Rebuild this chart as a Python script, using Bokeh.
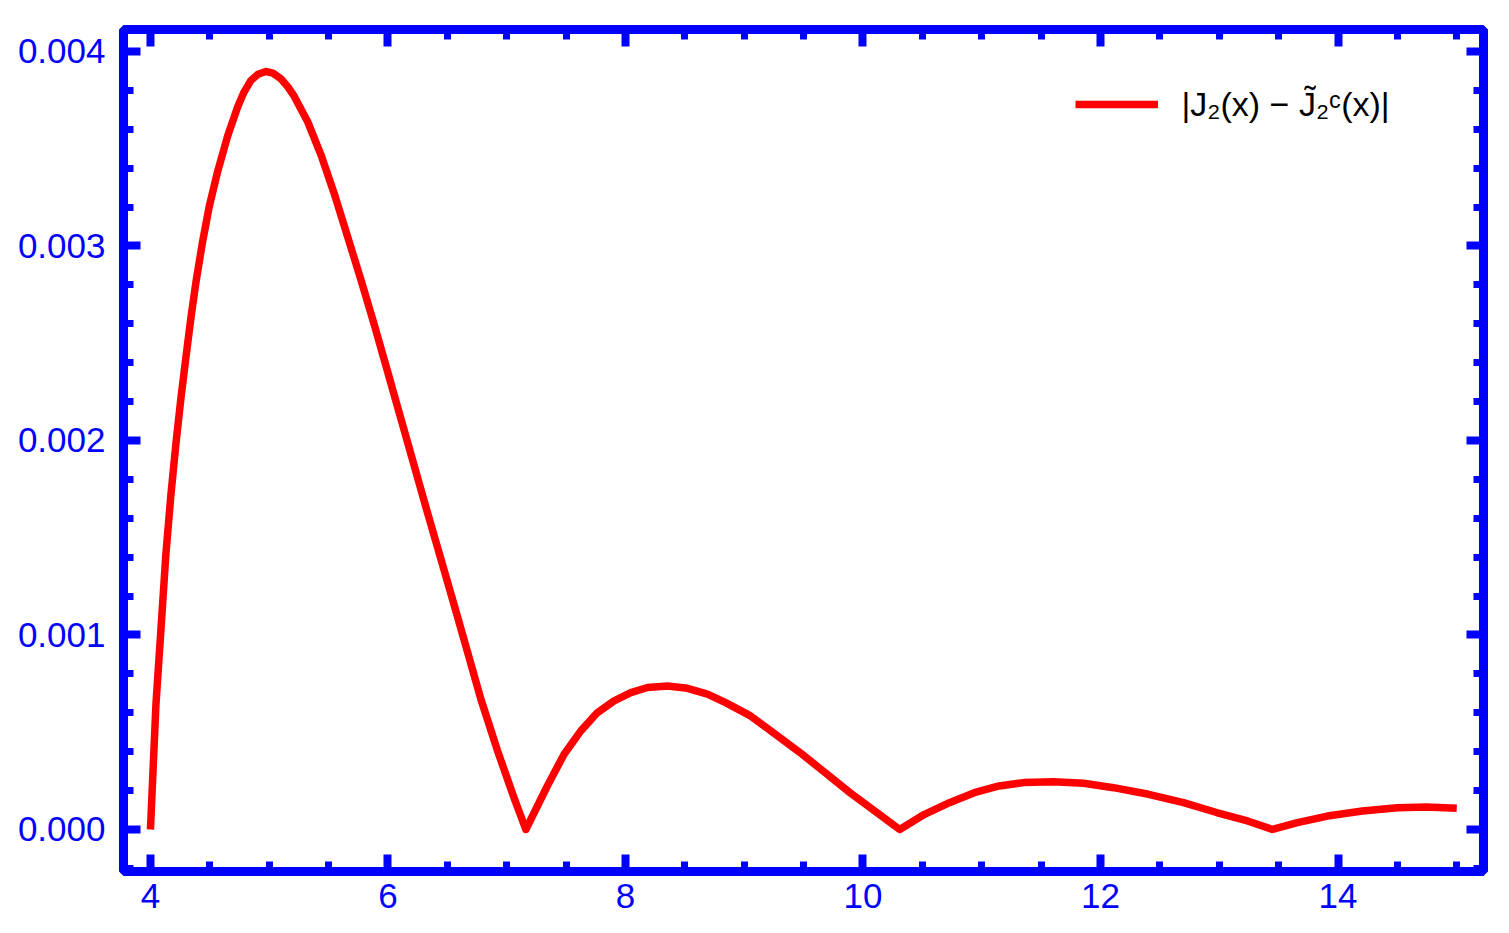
from bokeh.plotting import figure
from bokeh.models import (Range1d, SingleIntervalTicker, LinearAxis, NumeralTickFormatter,
                          CustomJSTickFormatter, Legend, LegendItem, ColumnDataSource)
from bokeh.embed import file_html
from bokeh.resources import INLINE

# ---- data ----
x_vals = [4.000, 4.046, 4.088, 4.130, 4.173, 4.215, 4.257, 4.299, 4.341, 4.383,
          4.439, 4.495, 4.566, 4.650, 4.734, 4.787, 4.846, 4.905, 4.972, 5.031,
          5.098, 5.157, 5.210, 5.323, 5.435, 5.547, 5.660, 5.772, 5.884, 5.997,
          6.109, 6.221, 6.333, 6.445, 6.557, 6.670, 6.782, 6.923, 7.062, 7.161,
          7.343, 7.483, 7.624, 7.764, 7.904, 8.045, 8.185, 8.354, 8.522, 8.690,
          8.843, 9.053, 9.262, 9.471, 9.681, 9.891, 10.099, 10.309, 10.518, 10.728,
          10.937, 11.146, 11.353, 11.605, 11.858, 12.110, 12.405, 12.699, 12.985, 13.238,
          13.448, 13.658, 13.911, 14.205, 14.501, 14.745, 15.000]
err_vals = [0.0, 0.000641, 0.001026, 0.001417, 0.001726, 0.001986, 0.002220, 0.002430, 0.002632, 0.002814,
            0.003022, 0.003203, 0.003383, 0.003565, 0.003715, 0.003790, 0.003851, 0.003883, 0.003897, 0.003889,
            0.003860, 0.003818, 0.003770, 0.003640, 0.003470, 0.003270, 0.003048, 0.002827, 0.002596, 0.002354,
            0.002112, 0.001870, 0.001628, 0.001392, 0.001155, 0.000913, 0.000671, 0.000404, 0.000162, 0.0,
            0.000225, 0.000387, 0.000507, 0.000601, 0.000661, 0.000704, 0.000730, 0.000738, 0.000726, 0.000696,
            0.000652, 0.000584, 0.000490, 0.000395, 0.000292, 0.000189, 0.000095, 0.0, 0.000078, 0.000138,
            0.000189, 0.000224, 0.000241, 0.000246, 0.000238, 0.000215, 0.000181, 0.000138, 0.000086, 0.000044,
            0.0, 0.000035, 0.000069, 0.000095, 0.000112, 0.000116, 0.000109]
series_label = "|J\u2082(x) \u2212 J\u0303\u2082\u1d9c(x)|"
x_tick_interval = 2
y_tick_interval = 0.001

BLUE = "#0000FF"
RED = "#FF0000"

src = ColumnDataSource(data=dict(x=x_vals, err=err_vals))

p = figure(frame_width=1360, frame_height=842,
           min_border_left=123, min_border_right=10, min_border_top=29, min_border_bottom=50,
           x_range=Range1d(3.773, 15.225), y_range=Range1d(-0.000216, 0.004113),
           x_axis_type=None, y_axis_type=None,
           output_backend="svg", toolbar_location=None)
p.background_fill_color = "white"
p.border_fill_color = "white"
p.outline_line_color = BLUE
p.outline_line_width = 9
p.outline_line_alpha = 1.0

xt = SingleIntervalTicker(interval=x_tick_interval, num_minor_ticks=4)
yt = SingleIntervalTicker(interval=y_tick_interval, num_minor_ticks=5)


def style(ax, standoff):
    ax.axis_line_color = None
    ax.major_tick_in = 17
    ax.major_tick_out = 0
    ax.minor_tick_in = 10
    ax.minor_tick_out = 0
    ax.major_tick_line_color = BLUE
    ax.major_tick_line_width = 8
    ax.minor_tick_line_color = BLUE
    ax.minor_tick_line_width = 7
    ax.major_label_text_font = "Liberation Sans"
    ax.major_label_text_font_size = "35px"
    ax.major_label_text_color = BLUE
    ax.major_label_standoff = standoff


blank = CustomJSTickFormatter(code="return ''")

bottom = LinearAxis(ticker=xt, formatter=NumeralTickFormatter(format="0"))
style(bottom, 12)
left = LinearAxis(ticker=yt, formatter=NumeralTickFormatter(format="0.000"))
style(left, 18)
top = LinearAxis(ticker=xt, formatter=blank)
style(top, 0)
top.major_label_text_font_size = "1px"
right = LinearAxis(ticker=yt, formatter=blank)
style(right, 0)
right.major_label_text_font_size = "1px"

p.add_layout(bottom, "below")
p.add_layout(left, "left")
p.add_layout(top, "above")
p.add_layout(right, "right")

r = p.line(x="x", y="err", source=src, line_color=RED, line_width=7.5, line_join="round")

legend = Legend(items=[LegendItem(label=series_label, renderers=[r])],
                location=(951.5, 747.5), padding=0, margin=0,
                border_line_color=None, background_fill_alpha=0,
                glyph_width=83, glyph_height=34, label_standoff=24,
                label_text_font="Liberation Sans", label_text_font_size="34px",
                label_text_color="black", label_height=34)
p.add_layout(legend)

open("out.html", "w").write(file_html(p, INLINE))
